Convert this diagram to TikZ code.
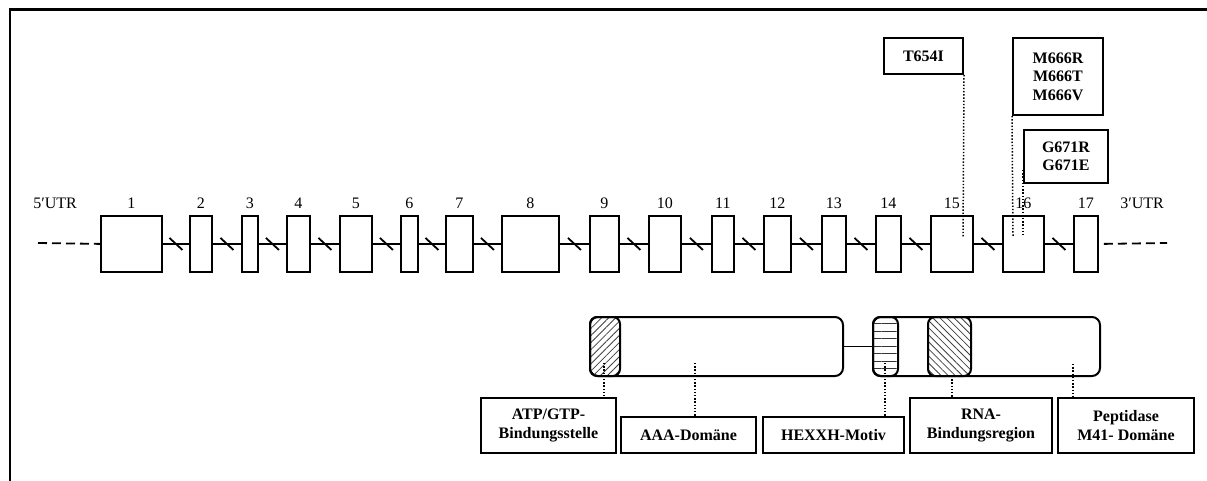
\documentclass[tikz,border=0pt]{standalone}
\usepackage{fontspec}
\setmainfont{Liberation Serif}
\usetikzlibrary{calc,patterns.meta}
\begin{document}
\begin{tikzpicture}[x=1pt,y=-1pt,
  exon/.style={draw,line width=1.8,inner sep=0,minimum height=56,anchor=north west},
  num/.style={font=\fontsize{16}{18}\selectfont,inner sep=0},
  mut/.style={draw,line width=2,inner sep=2,align=center,font=\bfseries\fontsize{16}{18.5}\selectfont},
  lab/.style={draw,line width=2,inner sep=2,align=center,font=\bfseries\fontsize{16}{18.5}\selectfont},
  bar/.style={draw,line width=2,inner sep=0,rounded corners=8,minimum height=59},
  dots/.style={line width=1.5,dash pattern=on 1.4pt off 1.8pt},
  link/.style={line width=1.8}]
\useasboundingbox (0,0) rectangle (1207,481);
% frame
\draw[line width=2.6] (10,481) -- (10,9.5) -- (1207,9.5);
% exons
\foreach \i/\a/\b in {1/100/161,2/189/211,3/241/257,4/286/309,5/339/371,6/400/417,7/445/472,8/501/558,9/589/618,10/648/680,11/711/733,12/763/790,13/821/845,14/875/900,15/930/972,16/1002/1043,17/1073/1097}{
  \node[exon,minimum width=\b-\a] (e\i) at (\a,215) {};
  \node[num] (n\i) at ($(e\i.north)+(0,-12)$) {\i};
}
\foreach \i [evaluate=\i as \j using int(\i+1)] in {1,...,16}{
  \draw[link] (e\i.east) -- (e\j.west);
  \draw[link] ($(e\i.east)!0.5!(e\j.west)$) ++(-6.5,-6) -- ++(13,12);
}
% UTRs
\coordinate (u5) at (38,243);
\coordinate (u3) at (1167,243);
\draw[link,dash pattern=on 9pt off 5pt] (u5) -- (e1.west);
\draw[link,dash pattern=on 9pt off 5pt] ([xshift=5pt]e17.east) -- (u3);
\node[num] (utr5) at (55,203) {5′UTR};
\node[num] (utr3) at (1142,203) {3′UTR};
% mutations
\node[mut,minimum width=79,minimum height=36] (t654) at (923.5,56) {T654I};
\node[mut,minimum width=90,minimum height=77] (m666) at (1058,76.5) {M666R\\M666T\\M666V};
\node[mut,minimum width=84,minimum height=53] (g671) at (1066,156.5) {G671R\\G671E};
\coordinate (c15) at (963,238);
\coordinate (c16a) at (1013,236);
\coordinate (c16b) at (1023,236);
\draw[dots] (t654.south east) -- (c15);
\draw[dots] (m666.south west) -- (c16a);
\draw[dots] (1023,170) -- (c16b);
% protein
\node[bar,minimum width=253] (p1) at (716.5,346.5) {};
\node[bar,minimum width=227] (p2) at (986.5,346.5) {};
\draw[link] (p1.east) -- (p2.west);
\node[bar,rounded corners=7,minimum width=30,pattern={Lines[angle=45,distance=5pt,line width=0.8pt]},pattern color=black!75] (atp) at (605,346.5) {};
\node[bar,rounded corners=7,minimum width=25,pattern={Lines[angle=0,distance=7.5pt,line width=0.8pt]},pattern color=black!80] (hex) at (885.5,346.5) {};
\node[bar,rounded corners=7,minimum width=43,pattern={Lines[angle=-45,distance=5pt,line width=0.8pt]},pattern color=black!75] (rna) at (949.5,346.5) {};
% labels
\node[lab,minimum width=135,minimum height=55] (atpl) at (548.5,425.5) {ATP/GTP-\\Bindungsstelle};
\node[lab,minimum width=135,minimum height=36] (aaal) at (688.5,435) {AAA-Domäne};
\node[lab,minimum width=141,minimum height=36] (hexl) at (833.5,435) {HEXXH-Motiv};
\node[lab,minimum width=142,minimum height=55] (rnal) at (981,425.5) {RNA-\\Bindungsregion};
\node[lab,minimum width=136,minimum height=55] (pepl) at (1126,425.5) {Peptidase\\M41- Domäne};
\coordinate (pa) at (604,363);
\coordinate (pb) at (695,363);
\coordinate (pc) at (885,363);
\coordinate (pd) at (952,376);
\coordinate (pe) at (1073,364);
\draw[dots] (pa) -- (pa |- atpl.north);
\draw[dots] (pb) -- (pb |- aaal.north);
\draw[dots] (pc) -- (pc |- hexl.north);
\draw[dots] (pd) -- (pd |- rnal.north);
\draw[dots] (pe) -- (pe |- pepl.north);
\end{tikzpicture}
\end{document}
